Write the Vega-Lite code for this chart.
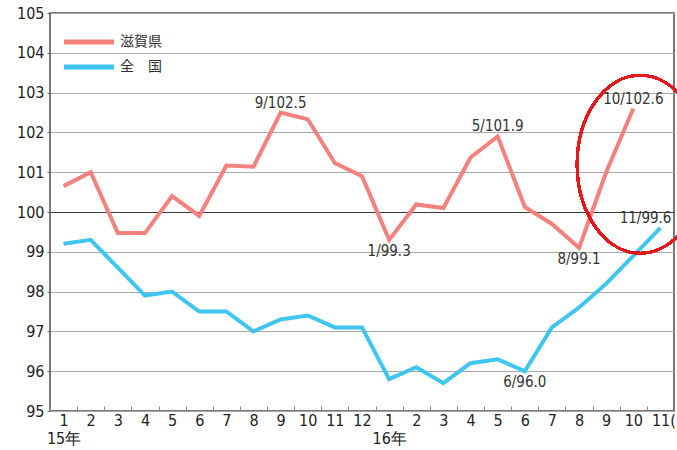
{
  "$schema": "https://vega.github.io/schema/vega-lite/v6.json",
  "autosize": {"type": "none"},
  "padding": {"left": 50, "top": 13, "right": 3, "bottom": 39},
  "width": 624,
  "height": 398,
  "background": "white",
  "config": {
    "view": {"stroke": "#4a4a4a", "strokeWidth": 1.5},
    "font": "Liberation Sans Narrow, DejaVu Sans Condensed, sans-serif"
  },
  "data": {
    "values": [
      {"series": "滋賀県", "month": "2015-01", "value": 100.65},
      {"series": "滋賀県", "month": "2015-02", "value": 101.0},
      {"series": "滋賀県", "month": "2015-03", "value": 99.47},
      {"series": "滋賀県", "month": "2015-04", "value": 99.47},
      {"series": "滋賀県", "month": "2015-05", "value": 100.4},
      {"series": "滋賀県", "month": "2015-06", "value": 99.9},
      {"series": "滋賀県", "month": "2015-07", "value": 101.17},
      {"series": "滋賀県", "month": "2015-08", "value": 101.14},
      {"series": "滋賀県", "month": "2015-09", "value": 102.5, "note": "9/102.5"},
      {"series": "滋賀県", "month": "2015-10", "value": 102.33},
      {"series": "滋賀県", "month": "2015-11", "value": 101.23},
      {"series": "滋賀県", "month": "2015-12", "value": 100.9},
      {"series": "滋賀県", "month": "2016-01", "value": 99.3, "note": "1/99.3"},
      {"series": "滋賀県", "month": "2016-02", "value": 100.19},
      {"series": "滋賀県", "month": "2016-03", "value": 100.1},
      {"series": "滋賀県", "month": "2016-04", "value": 101.37},
      {"series": "滋賀県", "month": "2016-05", "value": 101.9, "note": "5/101.9"},
      {"series": "滋賀県", "month": "2016-06", "value": 100.13},
      {"series": "滋賀県", "month": "2016-07", "value": 99.7},
      {"series": "滋賀県", "month": "2016-08", "value": 99.1, "note": "8/99.1"},
      {"series": "滋賀県", "month": "2016-09", "value": 101.0},
      {"series": "滋賀県", "month": "2016-10", "value": 102.6, "note": "10/102.6"},
      {"series": "全　国", "month": "2015-01", "value": 99.2},
      {"series": "全　国", "month": "2015-02", "value": 99.3},
      {"series": "全　国", "month": "2015-03", "value": 98.6},
      {"series": "全　国", "month": "2015-04", "value": 97.9},
      {"series": "全　国", "month": "2015-05", "value": 98.0},
      {"series": "全　国", "month": "2015-06", "value": 97.5},
      {"series": "全　国", "month": "2015-07", "value": 97.5},
      {"series": "全　国", "month": "2015-08", "value": 97.0},
      {"series": "全　国", "month": "2015-09", "value": 97.3},
      {"series": "全　国", "month": "2015-10", "value": 97.4},
      {"series": "全　国", "month": "2015-11", "value": 97.1},
      {"series": "全　国", "month": "2015-12", "value": 97.1},
      {"series": "全　国", "month": "2016-01", "value": 95.8},
      {"series": "全　国", "month": "2016-02", "value": 96.1},
      {"series": "全　国", "month": "2016-03", "value": 95.7},
      {"series": "全　国", "month": "2016-04", "value": 96.2},
      {"series": "全　国", "month": "2016-05", "value": 96.3},
      {"series": "全　国", "month": "2016-06", "value": 96.0, "note": "6/96.0"},
      {"series": "全　国", "month": "2016-07", "value": 97.1},
      {"series": "全　国", "month": "2016-08", "value": 97.6},
      {"series": "全　国", "month": "2016-09", "value": 98.2},
      {"series": "全　国", "month": "2016-10", "value": 98.9},
      {"series": "全　国", "month": "2016-11", "value": 99.6, "note": "11/99.6"}
    ]
  },
  "encoding": {
    "x": {
      "field": "month",
      "type": "ordinal",
      "sort": null,
      "scale": {"paddingInner": 0, "paddingOuter": 0},
      "axis": {
        "title": null,
        "domain": false,
        "labelAngle": 0,
        "labelFontSize": 16,
        "labelColor": "#222",
        "labelPadding": 6,
        "labelLineHeight": 18,
        "labelBaseline": "top",
        "labelOverlap": false,
        "labelBound": false,
        "labelExpr": "!isString(datum.value) ? '' : (datum.value == '2016-11' ? '11(月)' : (substring(datum.value, 5, 7) == '01' ? ['1', substring(datum.value, 2, 4) + '年'] : (substring(datum.value, 5, 6) == '0' ? substring(datum.value, 6, 7) : substring(datum.value, 5, 7))))",
        "labelAlign": {"condition": {"test": "datum.value == '2016-11'", "value": "left"}, "value": "center"},
        "labelOffset": {"condition": {"test": "datum.value == '2016-11'", "value": -9}, "value": 0},
        "tickBand": "extent",
        "tickSize": -5,
        "tickColor": "#888",
        "grid": false
      }
    },
    "y": {
      "field": "value",
      "type": "quantitative",
      "scale": {"domain": [95, 105], "nice": false, "zero": false},
      "axis": {
        "title": null,
        "domain": false,
        "values": [95, 96, 97, 98, 99, 100, 101, 102, 103, 104, 105],
        "labelFontSize": 16,
        "labelColor": "#222",
        "labelPadding": 3,
        "labelOverlap": false,
        "labelBound": false,
        "tickSize": 3,
        "tickColor": "#666",
        "gridColor": {"condition": {"test": "datum.value == 100", "value": "#3a3a3a"}, "value": "#a8a8a8"},
        "gridWidth": 1
      }
    }
  },
  "layer": [
    {
      "mark": {"type": "line", "strokeWidth": 4, "strokeJoin": "miter", "strokeCap": "butt"},
      "encoding": {
        "color": {
          "field": "series",
          "type": "nominal",
          "scale": {"domain": ["滋賀県", "全　国"], "range": ["#f3817d", "#3ec6f1"]},
          "legend": {
            "title": null,
            "orient": "none",
            "legendX": 28,
            "legendY": 18,
            "symbolType": "M -3 0 H 3",
            "symbolStrokeWidth": 5,
            "symbolSize": 278,
            "labelFont": "Noto Sans CJK JP",
            "labelFontSize": 14,
            "labelColor": "#333",
            "labelOffset": 20,
            "rowPadding": 4
          }
        }
      }
    },
    {
      "transform": [{"filter": "datum.note == '9/102.5' || datum.note == '5/101.9' || datum.note == '10/102.6'"}],
      "mark": {"type": "text", "fontSize": 15, "color": "#333", "baseline": "alphabetic", "dy": -5},
      "encoding": {"text": {"field": "note"}}
    },
    {
      "transform": [{"filter": "datum.note == '1/99.3' || datum.note == '8/99.1' || datum.note == '6/96.0'"}],
      "mark": {"type": "text", "fontSize": 15, "color": "#333", "baseline": "top", "dy": 4},
      "encoding": {"text": {"field": "note"}}
    },
    {
      "transform": [{"filter": "datum.note == '11/99.6'"}],
      "mark": {"type": "text", "fontSize": 15, "color": "#333", "baseline": "alphabetic", "align": "right", "dx": 11, "dy": -5},
      "encoding": {"text": {"field": "note"}}
    },
    {
      "mark": {
        "type": "point",
        "shape": "M -0.71 0 A 0.71 1 0 1 1 0.71 0 A 0.71 1 0 1 1 -0.71 0 Z",
        "size": 31684,
        "filled": false,
        "stroke": "#e3191c",
        "strokeWidth": 2.5,
        "opacity": 1,
        "xOffset": 7
      },
      "encoding": {
        "x": {"datum": "2016-10"},
        "y": {"datum": 101.2}
      }
    }
  ]
}
